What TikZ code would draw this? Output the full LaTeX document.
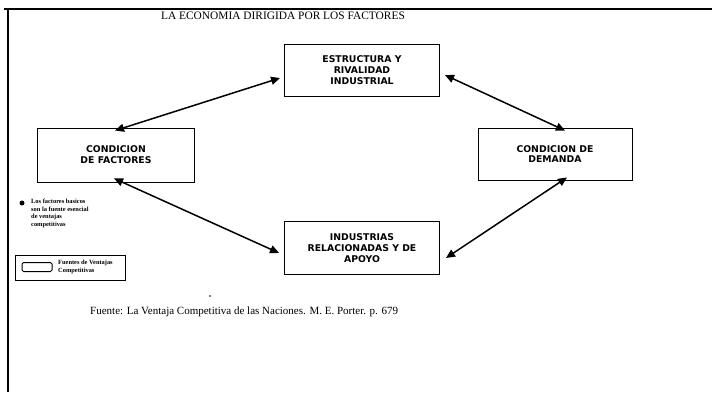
\documentclass[tikz,border=0pt]{standalone}
\usepackage{fontspec}
\setmainfont{Liberation Serif}
\newfontfamily\boxfont{DejaVu Sans}
\usetikzlibrary{arrows.meta}
\tikzset{
  factorbox/.style={draw, line width=0.9pt, minimum width=155pt, minimum height=52pt,
    align=center, inner sep=2pt, font=\boxfont\bfseries\fontsize{9.3}{10.8}\selectfont},
  link/.style={line width=1.5pt, {Triangle[length=9pt,width=8pt]}-{Triangle[length=9pt,width=8pt]}},
  frameline/.style={line width=1.3pt},
  note/.style={font=\bfseries\fontsize{6.4}{7.5}\selectfont, align=left, inner sep=0pt, anchor=north west}
}
\begin{document}
\begin{tikzpicture}[x=1pt,y=-1pt]
  \useasboundingbox (0,0) rectangle (712,397);
  % page frame: top rule and left rule
  \coordinate (ftl) at (8,9);
  \draw[frameline] (4,9) -- (712,9);
  \draw[frameline] (ftl) -- (8,392);

  % title
  \node[font=\fontsize{11.4}{13}\selectfont] (title) at (283,16) {LA ECONOMIA DIRIGIDA POR LOS FACTORES};

  % the four determinants
  \node[factorbox] (est) at (362,70) {ESTRUCTURA Y\\RIVALIDAD\\INDUSTRIAL};
  \node[factorbox, minimum width=157pt, minimum height=54pt] (fac) at (116,155) {CONDICION\\DE FACTORES};
  \node[factorbox, minimum width=154pt] (dem) at (555,154) {CONDICION DE\\DEMANDA};
  \node[factorbox, minimum height=53pt] (ind) at (362,248) {INDUSTRIAS\\RELACIONADAS Y DE\\APOYO};

  % two-way links between the determinants
  \draw[link] ([xshift=-1pt,yshift=-3pt]fac.north) -- ([xshift=-4pt,yshift=-8pt]est.west);
  \draw[link] ([xshift=5pt,yshift=-5pt]est.east) -- ([xshift=10pt,yshift=-3pt]dem.north);
  \draw[link] ([xshift=12pt,yshift=3pt]dem.south) -- ([xshift=6pt,yshift=-10pt]ind.east);
  \draw[link] ([xshift=-5pt,yshift=-5pt]ind.west) -- ([xshift=-2pt,yshift=4pt]fac.south);

  % note on the basic factors
  \node[circle, fill, inner sep=0pt, minimum size=5pt] (dot) at (22,203) {};
  \node[note] (basic) at (31,199) {Los factores basicos\\son la fuente esencial\\de ventajas\\competitivas};

  % legend
  \node[draw, line width=0.8pt, minimum width=110pt, minimum height=25pt, inner sep=0pt] (legend) at (70,267.5) {};
  \node[draw, line width=1pt, rounded corners=1.5pt, minimum width=30pt, minimum height=9pt, inner sep=0pt] (key) at (37,267) {};
  \node[note, anchor=west, font=\bfseries\fontsize{6.4}{8}\selectfont] (keytext) at (58,267) {Fuentes de Ventajas\\Competitivas};

  % source
  \node[circle, fill, inner sep=0pt, minimum size=1.8pt] (speck) at (210,296) {};
  \node[font=\fontsize{11}{13}\selectfont, anchor=west, inner sep=0pt] (source) at (90,312)
    {Fuente: La Ventaja Competitiva de las Naciones. M. E. Porter. p. 679};
\end{tikzpicture}
\end{document}
